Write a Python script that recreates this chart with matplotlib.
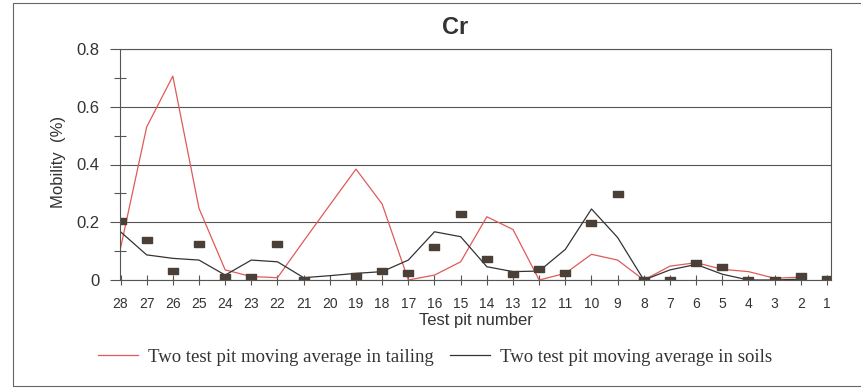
import numpy as np
import matplotlib.pyplot as plt
from matplotlib.patches import Rectangle

# test pits, plotted from 28 down to 1
pits = list(range(28, 0, -1))

# two test pit moving average in tailing (ends at pit 2)
tailing = [0.11, 0.53, 0.706, 0.248, 0.035, 0.012, 0.008, 0.135, 0.26, 0.384,
           0.263, 0.0, 0.017, 0.063, 0.219, 0.175, 0.0, 0.023, 0.089, 0.069,
           0.0, 0.048, 0.06, 0.037, 0.029, 0.006, 0.01, np.nan]

# two test pit moving average in soils
soils = [0.167, 0.087, 0.075, 0.069, 0.017, 0.069, 0.063, 0.008, 0.015, 0.023,
         0.029, 0.069, 0.167, 0.15, 0.046, 0.029, 0.031, 0.106, 0.246, 0.147,
         0.0, 0.035, 0.054, 0.02, 0.0, 0.0, 0.003, np.nan]

# individual test pit values (no value at pit 20)
single = [0.204, 0.139, 0.031, 0.124, 0.012, 0.01, 0.125, 0.0, np.nan, 0.015,
          0.032, 0.025, 0.113, 0.227, 0.073, 0.021, 0.039, 0.023, 0.196, 0.297,
          0.0, 0.0, 0.059, 0.046, 0.0, 0.0, 0.015, 0.002]

W, H = 861, 388
fig = plt.figure(figsize=(W / 100, H / 100), dpi=100)
ax = fig.add_axes([120.5 / W, 1 - 280 / H, (830.5 - 120.5) / W, (280 - 49) / H])

grey = "#555555"
ax.plot(pits, tailing, color="#e05a5a", lw=0.9, label="Two test pit moving average in tailing")
ax.plot(pits, soils, color="#333333", lw=0.9, label="Two test pit moving average in soils")
rect = [(-1, -0.6), (1, -0.6), (1, 0.6), (-1, 0.6), (-1, -0.6)]
ax.plot(pits, single, ls="none", marker=rect, ms=7.3, color="#4b4038", mec="#4b4038")

ax.set_xlim(28, 0.866)
ax.set_ylim(0, 0.8)
ax.set_xticks(pits)
ax.set_xticklabels([str(p) for p in pits], fontsize=10, family=["Liberation Sans Narrow", "Liberation Sans"], color="#333333")
ax.set_yticks([0, 0.2, 0.4, 0.6, 0.8])
ax.set_yticklabels(["0", "0.2", "0.4", "0.6", "0.8"], fontsize=12, family="Liberation Sans", color="#333333")
ax.set_yticks([0.1, 0.3, 0.5, 0.7], minor=True)
ax.tick_params(axis="y", which="major", direction="out", length=7, width=0.8, color=grey, pad=8)
ax.tick_params(axis="y", which="minor", direction="inout", length=8, width=0.8, color=grey)
ax.tick_params(axis="x", direction="inout", length=7, width=0.8, color=grey, pad=9)
ax.yaxis.grid(True, color=grey, lw=0.8)
ax.set_axisbelow(True)
for s in ax.spines.values():
    s.set_color(grey)
    s.set_linewidth(0.8)

ax.set_xlabel("Test pit number", fontsize=12, family="Liberation Sans", color="#333333", labelpad=1)
fig.text(59 / W, 1 - 162 / H, "Mobility  (%)", rotation=90, ha="center", va="center",
         fontsize=12, family="Liberation Sans", color="#333333")
fig.text(455 / W, 1 - 27 / H, "Cr", ha="center", va="center", fontsize=17,
         fontweight="bold", family="Liberation Sans", color="#333333")

fig.legend(loc="center", bbox_to_anchor=(435 / W, 1 - 357 / H), ncol=2, frameon=False,
           prop={"family": "Liberation Serif", "size": 13.5}, handlelength=2.13,
           handletextpad=0.53, columnspacing=0.9, labelcolor="#333333")

fig.patches.append(Rectangle((13 / W, 1 - 386 / H), (W + 40) / W, (386 - 3) / H,
                             transform=fig.transFigure, fill=False, ec="#666666", lw=0.8))

fig.savefig("out.png", dpi=100)
